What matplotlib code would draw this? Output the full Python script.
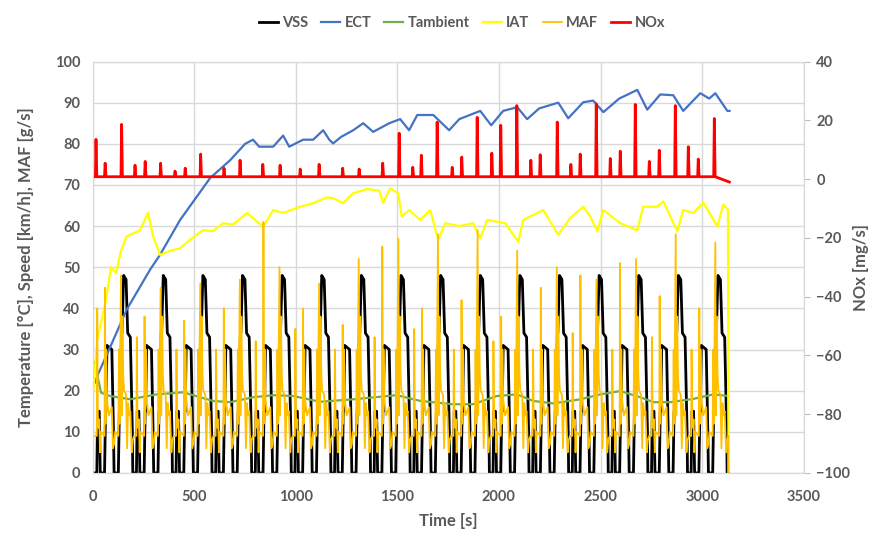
import matplotlib.pyplot as plt
import numpy as np

plt.rcParams['font.family'] = ['Lato', 'DejaVu Sans']

# --- data ---
# 16 repeated urban cycles, start time of each cycle [s]
cycle_start = [10, 205, 400, 595, 790, 985, 1180, 1375, 1570, 1765, 1960, 2155, 2350, 2545, 2740, 2935]

# vehicle speed inside one cycle (time from cycle start, km/h)
vss_cycle_t = [0, 11, 15, 23, 28, 49, 54, 56, 61, 85, 93, 96, 117, 122, 124, 133, 135, 143, 155, 163, 176, 186, 188, 195]
vss_cycle_v = [0, 0, 15, 15, 0, 0, 15, 15, 31, 30, 10, 0, 0, 15, 15, 34, 34, 48, 47, 34, 33, 10, 0, 0]

# MAF inside one cycle; 'A', 'B', 'C' are the spikes that change per cycle
maf_cycle_t = [0, 11, 13, 16, 20, 23, 27, 31, 49, 51, 54, 57, 61, 70, 85, 90, 96, 101, 117, 120, 123, 130, 133, 137, 141, 145, 155, 160, 165, 170, 176, 183, 188, 195]
maf_cycle_v = [9, 9, 'A', 14, 11, 13, 5, 10, 9, 'B', 12, 30, 18, 14, 16, 6, 7, 10, 9, 30, 12, 'C', 14, 38, 24, 20, 19, 6, 17, 14, 15, 5, 8, 9]
maf_peak_a = [40, 33, 30, 30, 32, 35, 30, 33, 35, 30, 32, 30, 34, 30, 33, 30]
maf_peak_b = [45, 38, 37, 40, 61, 40, 36, 55, 40, 42, 38, 45, 48, 51, 43, 40]
maf_peak_c = [48, 45, 46, 47, 50, 46, 52, 57, 58, 59, 54, 50, 47, 52, 58, 56]

ect_t = [12, 27, 86, 168, 283, 332, 431, 579, 677, 751, 790, 820, 889, 938, 968, 1036, 1086, 1135, 1165, 1184,
         1224, 1283, 1332, 1381, 1460, 1514, 1558, 1598, 1677, 1755, 1805, 1908, 1962, 2021, 2090, 2139, 2198, 2292,
         2341, 2415, 2464, 2514, 2592, 2681, 2730, 2794, 2858, 2907, 2991, 3035, 3065, 3124, 3135]
ect_v = [22, 24, 30.5, 39.7, 49.4, 53, 61.5, 71.7, 76, 80, 81, 79.3, 79.3, 82, 79.3, 81, 81, 83.3, 81, 80.1,
         81.7, 83.3, 85, 82.9, 85, 86, 83.3, 87, 87, 83.3, 86, 88, 84.5, 88, 88.9, 86, 88.6, 90,
         86.2, 90.1, 90.5, 87.7, 91, 93.1, 88.3, 92, 91.8, 88, 92.3, 91, 92.3, 88, 88]

amb_t = [12, 22, 42, 86, 185, 316, 446, 593, 677, 790, 889, 987, 1120, 1283, 1497, 1613, 1775, 1873, 1990, 2088,
         2169, 2267, 2400, 2499, 2597, 2696, 2760, 2843, 2957, 3055, 3129]
amb_v = [27, 24, 19.5, 18.7, 17.9, 19.1, 19.6, 17.5, 17.2, 18.4, 18.9, 18.7, 17.3, 17.9, 18.9, 17.5, 16.7, 16.7, 18.7, 19.1,
         17.5, 16.9, 17.9, 19.1, 19.9, 18.4, 17.2, 17.2, 18.0, 19.1, 18.7]

iat_t = [4, 22, 35, 66, 91, 116, 140, 168, 234, 273, 298, 332, 382, 431, 480, 544, 593, 643, 692, 761,
         840, 889, 938, 1022, 1086, 1155, 1184, 1233, 1283, 1352, 1411, 1430, 1465, 1504, 1522, 1558, 1612, 1662, 1701, 1736,
         1805, 1873, 1908, 1942, 2031, 2095, 2120, 2218, 2292, 2351, 2415, 2450, 2484, 2514, 2597, 2681, 2710, 2779, 2809, 2878,
         2907, 2957, 3006, 3075, 3104, 3127, 3130]
iat_v = [20, 32, 35, 42, 50, 48.6, 54, 57.5, 59, 63.2, 57.5, 53, 54, 54.6, 56.7, 59, 58.8, 60.7, 60.4, 63.2,
         59.8, 63.9, 63.2, 64.7, 65.6, 67, 66.8, 65.6, 68, 69, 68.6, 65.6, 69.2, 68, 62.3, 63.9, 61.5, 63.9, 56.7, 60.7,
         60, 60.7, 57, 61.5, 60.7, 56.2, 61.5, 63.9, 57.9, 62, 64.7, 62.3, 58.7, 63.9, 60.7, 59, 64.7, 64.7, 66, 58.7,
         63.9, 63.2, 65.7, 59.9, 65.2, 64, 0]

nox_base = 0.8
nox_spike_t = [17, 62, 143, 209, 259, 335, 406, 456, 532, 647, 726, 838, 923, 1022, 1115, 1231, 1312, 1428, 1509, 1576,
               1618, 1696, 1770, 1817, 1893, 1965, 2009, 2088, 2157, 2203, 2287, 2354, 2400, 2479, 2548, 2597, 2671, 2740,
               2789, 2868, 2932, 2981, 3060]
nox_spike_v = [13.5, 5.4, 18.6, 4.7, 6, 5.4, 2.7, 3.7, 8.5, 3.7, 6.4, 5, 4.7, 3.4, 5, 3.7, 3.4, 5.4, 15.6, 4,
               8.1, 19.4, 4, 7.5, 21, 8.8, 18.3, 25, 6.4, 8.3, 19.4, 5, 8.5, 25.6, 7, 9.5, 25.4, 6,
               9.8, 25, 11, 6.8, 20.6]
nox_end_t = [3134]
nox_end_v = [-1]

# --- build the series ---
vss_t, vss_v, maf_t, maf_v = [], [], [], []
for k, s in enumerate(cycle_start):
    vss_t += [s + t for t in vss_cycle_t]
    vss_v += vss_cycle_v
    peaks = {'A': maf_peak_a[k], 'B': maf_peak_b[k], 'C': maf_peak_c[k]}
    maf_t += [s + t for t in maf_cycle_t]
    maf_v += [peaks[v] if isinstance(v, str) else v for v in maf_cycle_v]
maf_t.append(maf_t[-1])
maf_v.append(0)

nox_t, nox_v = [4], [nox_base]
for t, v in zip(nox_spike_t, nox_spike_v):
    nox_t += [t - 3, t, t + 4]
    nox_v += [nox_base, v, nox_base]
nox_t += nox_end_t
nox_v += nox_end_v

# --- plot ---
grey = '#595959'
fig = plt.figure(figsize=(8.78, 5.35), dpi=100)
ax = fig.add_axes([0.1054, 0.116, 0.81, 0.769])
ax2 = ax.twinx()

l1, = ax.plot(vss_t, vss_v, color='black', linewidth=2, label='VSS')
l2, = ax.plot(ect_t, ect_v, color='#4472C4', linewidth=1.6, label='ECT')
l3, = ax.plot(amb_t, amb_v, color='#70AD47', linewidth=1.6, label='Tambient')
l4, = ax.plot(iat_t, iat_v, color='#FFFF00', linewidth=1.6, label='IAT')
l5, = ax.plot(maf_t, maf_v, color='#FFC000', linewidth=1.3, label='MAF')
l6, = ax2.plot(nox_t, nox_v, color='#FF0000', linewidth=2, label='NOx')

ax.set_xlim(0, 3500)
ax.set_ylim(0, 100)
ax.set_xticks(np.arange(0, 3501, 500))
ax.set_yticks(np.arange(0, 101, 10))
ax2.set_ylim(-100, 40)
ax2.set_yticks(np.arange(-100, 41, 20))

ax.grid(True, color='#d9d9d9', linewidth=1)
ax.set_axisbelow(True)
for a in (ax, ax2):
    for sp in a.spines.values():
        sp.set_color('#d9d9d9')
ax.tick_params(axis='x', length=0, labelsize=10.5, labelcolor=grey, pad=12)
ax.tick_params(axis='y', length=0, labelsize=10.5, labelcolor=grey, pad=9)
ax2.tick_params(axis='y', length=4, color='#bfbfbf', labelsize=10.5, labelcolor=grey, pad=5)
for lab in ax.get_xticklabels() + ax.get_yticklabels() + ax2.get_yticklabels():
    lab.set_fontweight('bold')

ax.set_xlabel('Time [s]', fontsize=12, fontweight='bold', color=grey, labelpad=7)
ax.set_ylabel('Temperature [°C], Speed [km/h], MAF [g/s]', fontsize=12, fontweight='bold', color=grey, labelpad=15)
ax2.set_ylabel('NOx [mg/s]', fontsize=12, fontweight='bold', color=grey, labelpad=2)

fig.legend(handles=[l1, l2, l3, l4, l5, l6], loc='upper center', bbox_to_anchor=(0.526, 0.995), ncol=6,
           frameon=False, handlelength=1.3, handletextpad=0.3, columnspacing=0.9,
           prop={'size': 10.5, 'weight': 'bold'}, labelcolor=grey)

fig.savefig('out.png', dpi=100)
